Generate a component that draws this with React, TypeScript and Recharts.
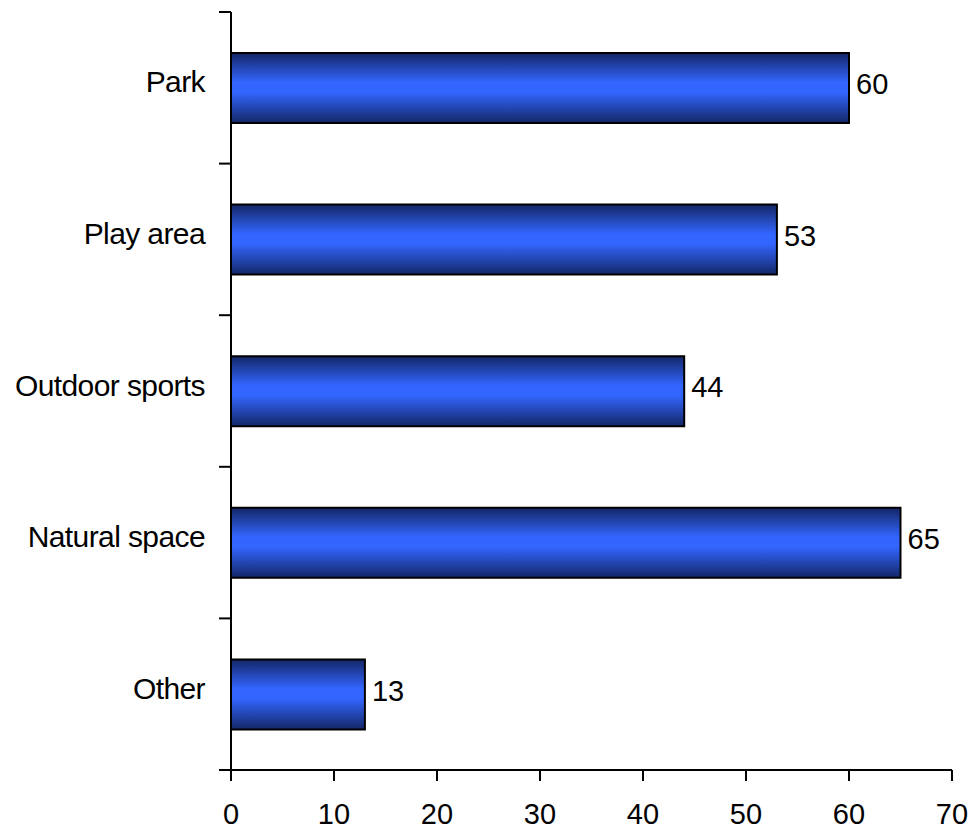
import React from "react";
import { BarChart, Bar, XAxis, YAxis, LabelList } from "recharts";

const categories = ["Park", "Play area", "Outdoor sports", "Natural space", "Other"];
const values = [60, 53, 44, 65, 13];
const xTicks = [0, 10, 20, 30, 40, 50, 60, 70];

const data = categories.map((c, i) => ({ name: c, value: values[i] }));

const FONT = "'Liberation Sans', Arial, sans-serif";
const TICK_SIZE = 12;
const TICK_MARGIN = 14;

const CategoryTick = (props: any) => {
  const { x, y, payload, index } = props;
  const half = payload && typeof payload.offset === "number" ? payload.offset : 0;
  const lineX1 = x + TICK_MARGIN;
  const lineX2 = x + TICK_MARGIN + TICK_SIZE;
  const isLast = index === categories.length - 1;
  return (
    <g>
      <line x1={lineX1} x2={lineX2} y1={y - half} y2={y - half} stroke="#000" strokeWidth={2} />
      {isLast && (
        <line x1={lineX1} x2={lineX2} y1={y + half} y2={y + half} stroke="#000" strokeWidth={2} />
      )}
      <text
        x={x}
        y={y - 6}
        dy="0.355em"
        textAnchor="end"
        fill="#000"
        fontSize={30}
        letterSpacing={-0.6}
        fontFamily={FONT}
      >
        {payload.value}
      </text>
    </g>
  );
};

const ValueLabel = (props: any) => {
  const { x, y, width, height, value } = props;
  return (
    <text
      x={x + width + 7}
      y={y + height / 2 - 4}
      dy="0.355em"
      textAnchor="start"
      fill="#000"
      fontSize={29}
      fontFamily={FONT}
    >
      {value}
    </text>
  );
};

export default function App() {
  return (
    <div style={{ position: "absolute", left: 0, top: 0, background: "#fff" }}>
      <BarChart
        width={971}
        height={829}
        data={data}
        layout="vertical"
        margin={{ top: 12, right: 19, left: 0, bottom: 0 }}
        barSize={70}
      >
        <defs>
          <linearGradient id="barGrad" x1="0" y1="0" x2="0" y2="1">
            <stop offset="0%" stopColor="#132666" />
            <stop offset="42%" stopColor="#3366ff" />
            <stop offset="56%" stopColor="#3366ff" />
            <stop offset="100%" stopColor="#132666" />
          </linearGradient>
        </defs>
        <XAxis
          type="number"
          domain={[0, 70]}
          ticks={xTicks}
          height={59}
          axisLine={{ stroke: "#000", strokeWidth: 2 }}
          tickLine={{ stroke: "#000", strokeWidth: 2 }}
          tickSize={11}
          tickMargin={22}
          tick={{ fill: "#000", fontSize: 29, fontFamily: FONT }}
          interval={0}
        />
        <YAxis
          type="category"
          dataKey="name"
          width={231}
          axisLine={{ stroke: "#000", strokeWidth: 2 }}
          tickLine={false}
          tickSize={TICK_SIZE}
          tickMargin={TICK_MARGIN}
          tick={<CategoryTick />}
          interval={0}
        />
        <Bar
          dataKey="value"
          fill="url(#barGrad)"
          stroke="#000"
          strokeWidth={2}
          isAnimationActive={false}
        >
          <LabelList dataKey="value" content={<ValueLabel />} />
        </Bar>
      </BarChart>
    </div>
  );
}
